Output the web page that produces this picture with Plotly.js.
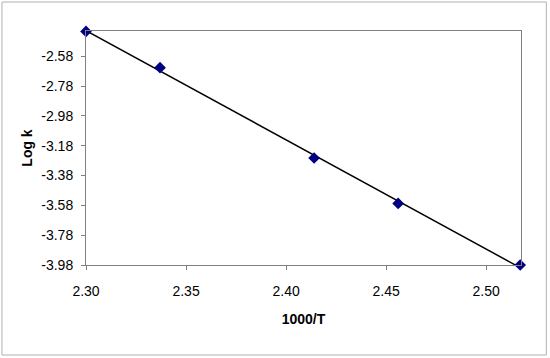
<!DOCTYPE html>
<html>
<head>
<meta charset="utf-8">
<script src="https://cdn.plot.ly/plotly-3.0.1.min.js"></script>
<style>
html,body{margin:0;padding:0;background:#fff;}
#chart{width:550px;height:358px;}
</style>
</head>
<body>
<div id="chart"></div>
<script>
// Data
var invT = [2.300, 2.337, 2.414, 2.456, 2.517];
var logK = [-2.413, -2.656, -3.262, -3.567, -3.98];
var yTicks = [-2.58, -2.78, -2.98, -3.18, -3.38, -3.58, -3.78, -3.98];
var xTicks = [2.30, 2.35, 2.40, 2.45, 2.50];

// linear regression trendline
var n = invT.length, mx = 0, my = 0;
for (var i = 0; i < n; i++) { mx += invT[i]; my += logK[i]; }
mx /= n; my /= n;
var sxy = 0, sxx = 0;
for (var i = 0; i < n; i++) { sxy += (invT[i]-mx)*(logK[i]-my); sxx += (invT[i]-mx)*(invT[i]-mx); }
var slope = sxy / sxx, icpt = my - slope * mx;
var xmin = Math.min.apply(null, invT), xmax = Math.max.apply(null, invT);
var trendX = [xmin, xmax];
var trendY = trendX.map(function(x){ return icpt + slope * x; });

var font = {family: 'Liberation Sans, Arial, sans-serif', size: 14, color: '#000'};

var traces = [
  {x: trendX, y: trendY, mode: 'lines', line: {color: '#000', width: 1.5}, hoverinfo: 'skip', showlegend: false, cliponaxis: false},
  {x: invT, y: logK, mode: 'markers', marker: {symbol: 'diamond', size: 9, color: '#000080'}, showlegend: false, cliponaxis: false}
];

var layout = {
  width: 550, height: 358,
  margin: {l: 86, r: 29.3, t: 31, b: 93},
  paper_bgcolor: '#fff', plot_bgcolor: '#fff',
  font: font,
  showlegend: false,
  xaxis: {
    range: [2.30, 2.5174], tickvals: xTicks, ticktext: xTicks.map(function(v){return v.toFixed(2);}),
    showgrid: false, zeroline: false, showline: true, linecolor: '#808080', linewidth: 1, mirror: true,
    ticks: 'outside', ticklen: 4, tickcolor: '#808080', ticklabelstandoff: 9,
    tickfont: font,
    title: {text: '<b>1000/T</b>', font: font, standoff: 16}
  },
  yaxis: {
    range: [-3.98, -2.41], tickvals: yTicks, ticktext: yTicks.map(function(v){return v.toFixed(2);}),
    showgrid: false, zeroline: false, showline: true, linecolor: '#808080', linewidth: 1, mirror: true,
    ticks: 'outside', ticklen: 4, tickcolor: '#808080', ticklabelstandoff: 5,
    tickfont: font,
    title: {text: '<b>Log k</b>', font: font, standoff: 5}
  },
  shapes: [
    {type: 'rect', xref: 'paper', yref: 'paper', x0: -0.1932, x1: 1.0582, y0: -0.3846, y1: 1.1239,
     line: {color: '#b0b0b0', width: 1}, fillcolor: 'rgba(0,0,0,0)', layer: 'below'}
  ]
};

Plotly.newPlot('chart', traces, layout, {displayModeBar: false, staticPlot: true});
</script>
</body>
</html>
